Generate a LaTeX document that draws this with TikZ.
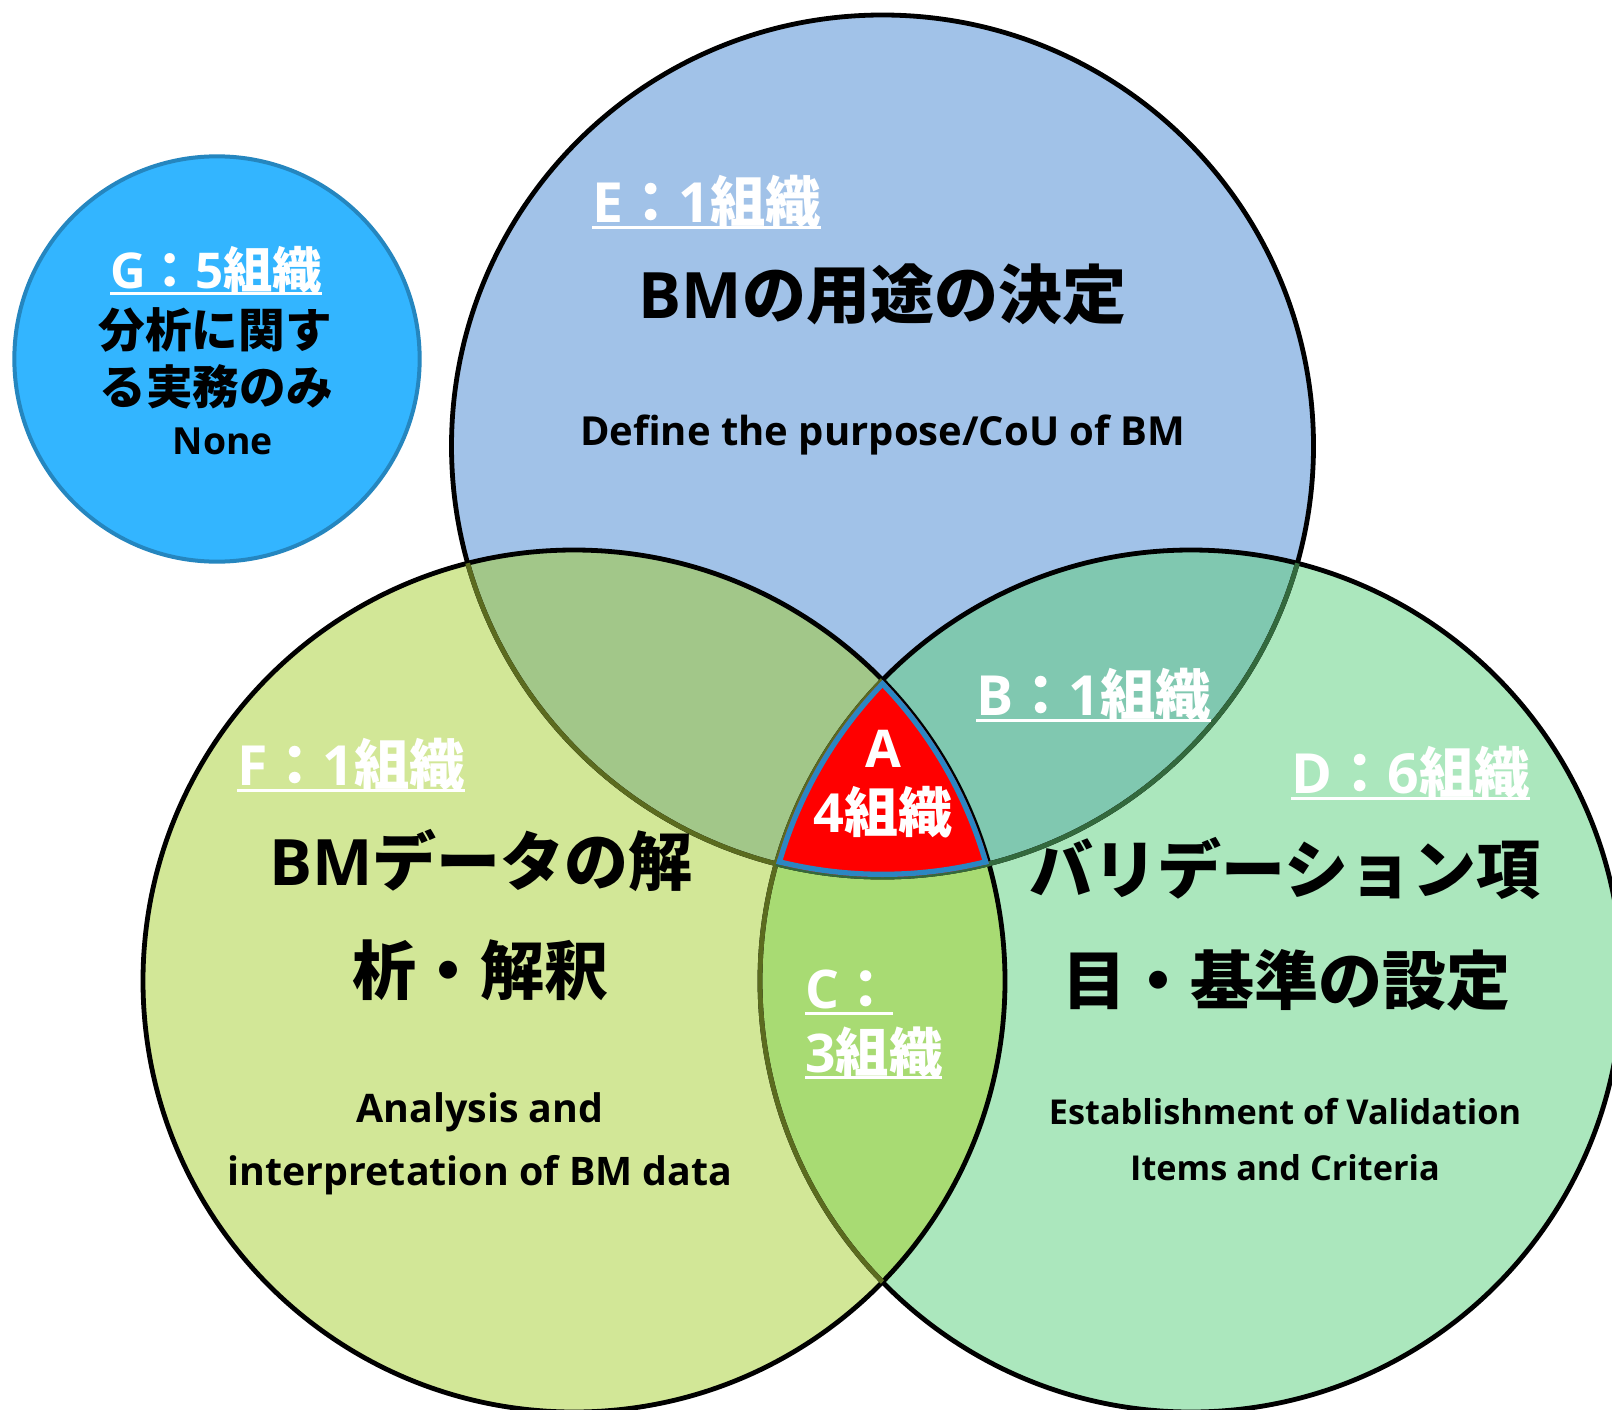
\documentclass[tikz,border=0pt]{standalone}
\usepackage{fontspec}
\newfontfamily\jpf{Noto Sans CJK JP}
\newfontfamily\enf{Open Sans}
\newcommand\tJ[1]{{\jpf #1}}
\newcommand\tE[1]{{\enf #1}}
\newsavebox\myulbox
\newcommand\myul[1]{\sbox\myulbox{#1}\rlap{\rule[-5.6pt]{\wd\myulbox}{2.25pt}}\usebox\myulbox}
\definecolor{cT}{HTML}{A1C2E8}
\definecolor{cL}{HTML}{D2E797}
\definecolor{cR}{HTML}{ABE7BD}
\definecolor{cTL}{HTML}{A2C789}
\definecolor{cTR}{HTML}{80C8B0}
\definecolor{cLR}{HTML}{A8DB73}
\definecolor{cA}{HTML}{FF0000}
\definecolor{cAb}{HTML}{2B86C3}
\definecolor{cG}{HTML}{33B5FF}
\definecolor{cGb}{HTML}{2586BF}
\definecolor{olv}{HTML}{5B6B1F}
\definecolor{dgr}{HTML}{33693D}
\def\R{323.25pt}
\tikzset{
  ln/.style={line width=3.6pt},
  fsz/.style={font=\fontsize{#1}{#1}\selectfont\bfseries, inner sep=0pt},
  head/.style={fsz=48pt, text=black},
  lab/.style={fsz=41.5pt, text=white},
}
\begin{document}
\begin{tikzpicture}[x=0.75pt,y=-0.75pt]
\clip (0,0) rectangle (1612,1409);
\fill[white] (0,0) rectangle (1612,1409);
\coordinate (T) at (882.5,446);
\coordinate (L) at (574,981);
\coordinate (R) at (1191,981);
\coordinate (G) at (217,359);
% fills
\fill[cT] (T) circle[radius=\R];
\fill[cR] (R) circle[radius=\R];
\fill[cL] (L) circle[radius=\R];
\begin{scope}
  \clip (T) circle[radius=\R];
  \fill[cTL] (L) circle[radius=\R];
  \fill[cTR] (R) circle[radius=\R];
\end{scope}
\begin{scope}
  \clip (L) circle[radius=\R];
  \fill[cLR] (R) circle[radius=\R];
\end{scope}
% outlines
\draw[ln] (T) circle[radius=\R];
\draw[ln] (R) circle[radius=\R];
\draw[ln] (L) circle[radius=\R];
\begin{scope}
  \clip (L) circle[radius=\R];
  \draw[ln, olv] (T) circle[radius=\R];
  \draw[ln, olv] (R) circle[radius=\R];
\end{scope}
\begin{scope}
  \clip (R) circle[radius=\R];
  \draw[ln, dgr] (T) circle[radius=\R];
\end{scope}
% centre region A
\begin{scope}
  \clip (T) circle[radius=\R];
  \clip (L) circle[radius=\R];
  \clip (R) circle[radius=\R];
  \fill[cA] (0,0) rectangle (1612,1409);
  \draw[cAb, line width=8pt] (T) circle[radius=\R];
  \draw[cAb, line width=8pt] (L) circle[radius=\R];
  \draw[cAb, line width=8pt] (R) circle[radius=\R];
\end{scope}
% G circle
\draw[fill=cG, draw=cGb, line width=3pt] (G) circle[radius=152pt];

% texts: top circle
\node[lab, anchor=base west] (lE) at (592,222) {\myul{\tE{E}\tJ{：}\tE{1}\tJ{組織}}};
\node[head, anchor=base] (hE) at (882.5,318) {\tE{BM}\tJ{の用途の決定}};
\node[fsz=30pt, anchor=base] (sE) at (882.5,445) {\tE{Define the purpose/CoU of BM}};

% G
\node[fsz=37pt, text=white, anchor=base] (lG) at (216,288) {\myul{\tE{G}\tJ{：}\tE{5}\tJ{組織}}};
\node[fsz=35pt, anchor=base] (g1) at (215,347) {\tJ{分析に関す}};
\node[fsz=35pt, anchor=base] (g2) at (216,404) {\tJ{る実務のみ}};
\node[fsz=28pt, anchor=base] (g3) at (223,454) {\tE{None}};

% left circle
\node[lab, anchor=base west] (lF) at (237,785) {\myul{\tE{F}\tJ{：}\tE{1}\tJ{組織}}};
\node[head, anchor=base] (hF1) at (481,885) {\tE{BM}\tJ{データの解}};
\node[head, anchor=base] (hF2) at (480,994) {\tJ{析・解釈}};
\node[fsz=29.5pt, anchor=base] (sF1) at (480,1122) {\tE{Analysis and}};
\node[fsz=29.5pt, anchor=base] (sF2) at (480,1185) {\tE{interpretation of BM data}};

% right circle
\node[lab, anchor=base west] (lD) at (1291,793) {\myul{\tE{D}\tJ{：}\tE{6}\tJ{組織}}};
\node[head, anchor=base] (hD1) at (1285,893) {\tJ{バリデーション項}};
\node[head, anchor=base] (hD2) at (1286,1004) {\tJ{目・基準の設定}};
\node[fsz=25.7pt, anchor=base] (sD1) at (1285,1124) {\tE{Establishment of Validation}};
\node[fsz=25.7pt, anchor=base] (sD2) at (1285,1180) {\tE{Items and Criteria}};

% overlaps
\node[lab, anchor=base west] (lB) at (976,715) {\myul{\tE{B}\tJ{：}\tE{1}\tJ{組織}}};
\node[fsz=40pt, text=white, anchor=base west] (lC1) at (805,1008) {\myul{\tE{C}\tJ{：}}};
\node[fsz=40pt, text=white, anchor=base west] (lC2) at (805,1072) {\myul{\tE{3}\tJ{組織}}};
\node[fsz=39pt, text=white, anchor=base] (a1) at (883,767) {\tE{A}};
\node[fsz=40.5pt, text=white, anchor=base] (a2) at (883,832) {\tE{4}\tJ{組織}};
\end{tikzpicture}
\end{document}
